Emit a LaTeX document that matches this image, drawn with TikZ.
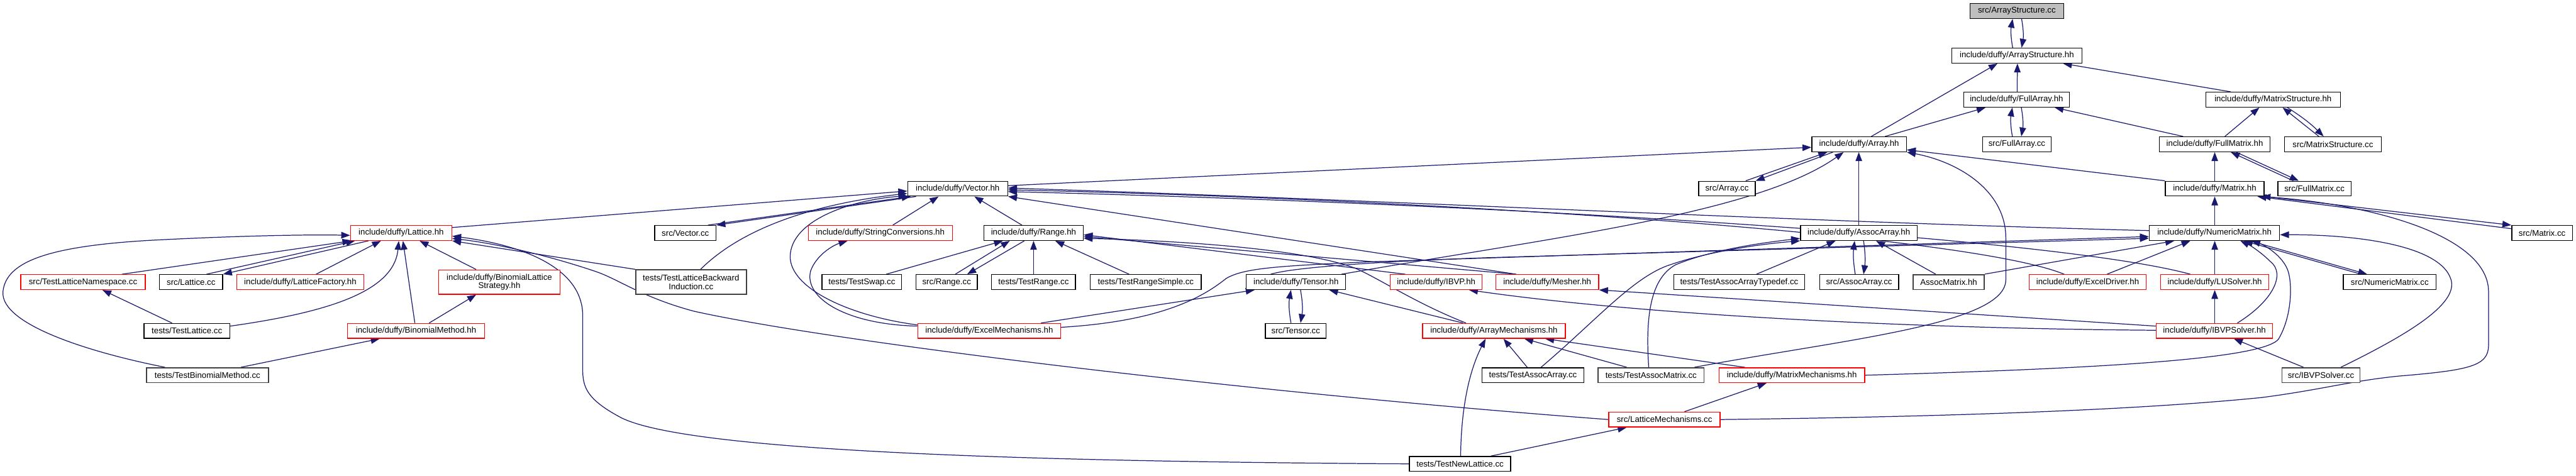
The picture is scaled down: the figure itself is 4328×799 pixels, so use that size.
\documentclass[tikz,border=0pt]{standalone}
\usepackage{fontspec}
\setmainfont{Liberation Sans}
\usetikzlibrary{arrows.meta}
\definecolor{edgecol}{HTML}{191970}
\definecolor{rootfill}{HTML}{BFBFBF}
\definecolor{greyborder}{HTML}{404040}
\pgfdeclarelayer{bg}
\pgfsetlayers{bg,main}
\begin{document}
\begin{tikzpicture}[x=1pt,y=-1pt,
  nd/.style={draw=black,line width=1.4pt,fill=white,rectangle,inner sep=0pt,minimum height=25pt,font=\fontsize{14}{14.5}\selectfont,align=center},
  rd/.style={nd,draw=red},
  gd/.style={nd,draw=greyborder,line width=1.8pt},
  ed/.style={draw=edgecol,line width=1.3pt,-{Triangle[length=15pt,width=11pt]}}]
\useasboundingbox (0,0) rectangle (4328,799);
% row 0-4
\node[nd,fill=rootfill,minimum width=157pt] (asc) at (3388.5,18.5) {src/ArrayStructure.cc};
\node[nd,minimum width=219pt] (ash) at (3388.5,93.5) {include/duffy/ArrayStructure.hh};
\node[nd,minimum width=178pt] (fah) at (3388,167.5) {include/duffy/FullArray.hh};
\node[nd,minimum width=226pt] (msh) at (3819,167.5) {include/duffy/MatrixStructure.hh};
\node[nd,minimum width=115pt] (fac) at (3388.5,242.5) {src/FullArray.cc};
\node[nd,minimum width=159pt] (arh) at (3123.5,242.5) {include/duffy/Array.hh};
\node[nd,minimum width=186pt] (fmh) at (3721,242.5) {include/duffy/FullMatrix.hh};
\node[nd,minimum width=163pt] (msc) at (3919.5,242.5) {src/MatrixStructure.cc};
\node[nd,minimum width=95pt] (arc) at (2901.5,317) {src/Array.cc};
\node[nd,minimum width=168pt] (vch) at (1609,317) {include/duffy/Vector.hh};
\node[nd,minimum width=166pt] (mah) at (3721,317) {include/duffy/Matrix.hh};
\node[nd,minimum width=123pt] (fmc) at (3888.5,317) {src/FullMatrix.cc};
% row 5
\node[rd,minimum width=170pt] (lah) at (674,391.5) {include/duffy/Lattice.hh};
\node[nd,minimum width=103pt] (vcc) at (1151.5,391.5) {src/Vector.cc};
\node[rd,minimum width=242pt] (sch) at (1479,391.5) {include/duffy/StringConversions.hh};
\node[nd,minimum width=167pt] (rah) at (1736.5,391.5) {include/duffy/Range.hh};
\node[nd,minimum width=196pt] (aah) at (3123,391.5) {include/duffy/AssocArray.hh};
\node[nd,minimum width=219pt] (nmh) at (3720.5,391.5) {include/duffy/NumericMatrix.hh};
\node[nd,minimum width=102pt] (mac) at (4271,391.5) {src/Matrix.cc};
% row 6
\node[rd,minimum width=209pt] (tln) at (139.5,474) {src/TestLatticeNamespace.cc};
\node[nd,minimum width=106pt] (lac) at (321,474) {src/Lattice.cc};
\node[rd,minimum width=213pt] (lfh) at (504.5,474) {include/duffy/LatticeFactory.hh};
\node[rd,minimum width=204pt,minimum height=41pt] (bls) at (839,474) {include/duffy/BinomialLattice\\Strategy.hh};
\node[gd,minimum width=186pt,minimum height=41pt] (tlb) at (1161,474) {tests/TestLatticeBackward\\Induction.cc};
\node[nd,minimum width=134pt] (tsw) at (1448,474) {tests/TestSwap.cc};
\node[nd,minimum width=103pt] (rac) at (1590.5,474) {src/Range.cc};
\node[nd,minimum width=141pt] (tra) at (1736.5,474) {tests/TestRange.cc};
\node[nd,minimum width=186pt] (trs) at (1925,474) {tests/TestRangeSimple.cc};
\node[nd,minimum width=167pt] (teh) at (2177.5,474) {include/duffy/Tensor.hh};
\node[rd,minimum width=154pt] (ibh) at (2413,474) {include/duffy/IBVP.hh};
\node[rd,minimum width=173pt] (meh) at (2599.5,474) {include/duffy/Mesher.hh};
\node[nd,minimum width=220pt] (tat) at (2922,474) {tests/TestAssocArrayTypedef.cc};
\node[nd,minimum width=133pt] (aac) at (3123.5,474) {src/AssocArray.cc};
\node[gd,minimum width=120pt] (amh) at (3274,474) {AssocMatrix.hh};
\node[rd,minimum width=197pt] (edh) at (3507.5,474) {include/duffy/ExcelDriver.hh};
\node[rd,minimum width=182pt] (luh) at (3721,474) {include/duffy/LUSolver.hh};
\node[nd,minimum width=156pt] (nmc) at (4015,474) {src/NumericMatrix.cc};
% row 7
\node[nd,minimum width=144pt] (tlc) at (314,556) {tests/TestLattice.cc};
\node[rd,minimum width=230pt] (bmh) at (699,556) {include/duffy/BinomialMethod.hh};
\node[rd,minimum width=240pt] (emh) at (1662,556) {include/duffy/ExcelMechanisms.hh};
\node[nd,minimum width=102pt] (tec) at (2177,556) {src/Tensor.cc};
\node[rd,minimum width=240pt] (amch) at (2510,556) {include/duffy/ArrayMechanisms.hh};
\node[rd,minimum width=195pt] (ish) at (3720.5,556) {include/duffy/IBVPSolver.hh};
% row 8-10
\node[gd,minimum width=205pt] (tbm) at (348.5,630.5) {tests/TestBinomialMethod.cc};
\node[nd,minimum width=171pt] (taa) at (2575.5,630.5) {tests/TestAssocArray.cc};
\node[gd,minimum width=178pt] (tam) at (2774,630.5) {tests/TestAssocMatrix.cc};
\node[rd,minimum width=245pt] (mmh) at (3010.5,630.5) {include/duffy/MatrixMechanisms.hh};
\node[gd,minimum width=131pt] (isc) at (3899.5,630.5) {src/IBVPSolver.cc};
\node[rd,minimum width=187pt] (lmc) at (2796.5,705) {src/LatticeMechanisms.cc};
\node[nd,minimum width=170pt] (tnl) at (2453,779.5) {tests/TestNewLattice.cc};

\begin{pgfonlayer}{bg}
% top part
\draw[ed] ([xshift=-7pt]ash.north) to[bend left=10] ([xshift=-7pt]asc.south);
\draw[ed] ([xshift=8pt]asc.south) to[bend left=10] ([xshift=8pt]ash.north);
\draw[ed] ([xshift=1pt]fah.north) -- ([xshift=1pt]ash.south);
\draw[ed] ([xshift=20.5pt]arh.north) -- ([xshift=-32.5pt]ash.south);
\draw[ed] ([xshift=-71pt]msh.north) -- ([xshift=77.5pt]ash.south);
\draw[ed] ([xshift=43.5pt]arh.north) -- ([xshift=-52pt]fah.south);
\draw[ed] ([xshift=-7.5pt]fac.north) to[bend left=10] ([xshift=-7pt]fah.south);
\draw[ed] ([xshift=8pt]fah.south) to[bend left=10] ([xshift=7.5pt]fac.north);
\draw[ed] ([xshift=-53pt]fmh.north) -- ([xshift=64pt]fah.south);
\draw[ed] ([xshift=17pt]fmh.north) -- ([xshift=-23pt]msh.south);
\draw[ed] ([xshift=-23.5pt]msc.north) -- ([xshift=16pt]msh.south);
\draw[ed] ([xshift=24pt]msh.south) to[bend left=6] ([xshift=-15.5pt]msc.north);
\draw[ed] (mah.north) -- (fmh.south);
\draw[ed] ([xshift=-35.5pt]fmc.north) -- ([xshift=27pt]fmh.south);
\draw[ed] ([xshift=36pt]fmh.south) -- ([xshift=-26.5pt]fmc.north);
\draw[ed] (mah.north west) -- ([yshift=4pt]arh.south east);
\draw[ed] ([yshift=5pt]vch.east) -- ([yshift=-5pt]arh.west);
\draw[ed] ([xshift=31.5pt]arc.north) -- ([xshift=-53.5pt]arh.south);
\draw[ed] ([xshift=-44pt]arh.south) -- (arc.north east);
\draw[ed] ([xshift=76.5pt]teh.north) .. controls (2600,400) and (2950,360) .. ([xshift=-26pt]arh.south);
\draw[ed] (aah.north) -- ([xshift=-0.5pt]arh.south);
\draw[ed] ([xshift=73pt]tam.north) .. controls (3100,570) and (3370,545) .. (3370,470) -- (3370,400) .. controls (3370,320) and (3290,272) .. (arh.south east);
\draw[ed] ([xshift=0.5pt]nmh.north) -- (mah.south);
\draw[ed] ([yshift=-6pt]mac.north west) -- ([xshift=-12pt]mah.south east);
\draw[ed] (mah.south east) -- (mac.north west);
\draw[ed] (lmc.east) .. controls (3300,700) and (3600,688) .. (3800,668) .. controls (3900,655) and (3950,640) .. (4030,632) .. controls (4150,622) and (4181,615) .. (4181,580) -- (4181,490) .. controls (4181,400) and (4000,345) .. ([xshift=-5pt]mah.south east);
% Vector.hh
\draw[ed] ([yshift=-4pt]lah.north east) -- ([yshift=-4pt]vch.west);
\draw[ed] ([xshift=38pt]vcc.north) -- ([xshift=-79pt]vch.south);
\draw[ed] ([xshift=-70pt]vch.south) -- (vcc.north east);
\draw[ed] ([xshift=16pt]tlb.north) .. controls (1240,390) and (1350,345) .. ([yshift=-8pt]vch.west);
\draw[ed] ([yshift=10pt]emh.west) .. controls (1420,530) and (1320,480) .. (1328,425) .. controls (1336,365) and (1440,335) .. ([yshift=-12pt]vch.west);
\draw[ed] ([yshift=8pt]emh.west) .. controls (1420,545) and (1350,500) .. (1362,455) .. controls (1372,428) and (1400,412) .. ([xshift=-55pt]sch.south);
\draw[ed] ([xshift=21pt]sch.north) -- ([xshift=-32pt]vch.south);
\draw[ed] ([xshift=-19.5pt]rah.north) -- ([xshift=28pt]vch.south);
\draw[ed] ([xshift=-52.5pt]meh.north) -- (vch.south east);
\draw[ed] ([yshift=4pt]nmh.west) .. controls (3000,372) and (2300,335) .. ([yshift=1pt]vch.east);
\draw[ed] ([xshift=-39.5pt]edh.north) .. controls (3300,392) and (2400,335) .. ([yshift=-2pt]vch.east);
\draw[ed] ([xshift=-41pt]luh.north) .. controls (3450,398) and (2500,342) .. ([yshift=-5pt]vch.east);
% Lattice.hh
\draw[ed] ([xshift=-71.5pt]tbm.north) .. controls (150,592) and (0,545) .. (5,490) .. controls (10,440) and (80,414) .. (250,404) .. controls (400,396) and (520,394) .. ([yshift=-4pt]lah.west);
\draw[ed] ([xshift=65.5pt]tln.north) -- ([xshift=2pt]lah.south west);
\draw[ed] ([xshift=26pt]lac.north) -- ([xshift=8pt]lah.south west);
\draw[ed] ([xshift=-55pt]lah.south) -- (lac.north east);
\draw[ed] ([xshift=26.5pt]lfh.north) -- ([xshift=-34pt]lah.south);
\draw[ed] ([yshift=8pt]tlc.east) .. controls (550,525) and (662,490) .. ([xshift=-4pt]lah.south);
\draw[ed] ([xshift=-2pt]bmh.north) -- ([xshift=3pt]lah.south);
\draw[ed] ([xshift=-39pt]bls.north) -- ([xshift=31pt]lah.south);
\draw[ed] (tlb.north west) -- (lah.south east);
\draw[ed] (lmc.west) .. controls (2100,660) and (1400,575) .. (1166,523) .. controls (1080,500) and (1040,470) .. (1003,457) .. controls (930,432) and (840,410) .. ([yshift=4pt]lah.south east);
\draw[ed] (tnl.west) .. controls (1800,776) and (1150,762) .. (1040,700) .. controls (985,670) and (979,650) .. (979,620) -- (979,530) .. controls (979,460) and (900,415) .. ([yshift=8pt]lah.south east);
\draw[ed] ([xshift=-25pt]tlc.north) -- ([xshift=32.5pt]tln.south);
\draw[ed] ([xshift=56.5pt]tbm.north) -- ([xshift=-61pt]bmh.south);
\draw[ed] ([xshift=22pt]bmh.north) -- ([xshift=-39pt]bls.south);
% Range.hh
\draw[ed] ([xshift=41pt]tsw.north) -- ([xshift=-51.5pt]rah.south);
\draw[ed] ([xshift=14.5pt]rac.north) -- ([xshift=-40pt]rah.south);
\draw[ed] ([xshift=-15.5pt]rah.south) -- ([xshift=34.5pt]rac.north);
\draw[ed] (tra.north) -- (rah.south);
\draw[ed] ([xshift=-28pt]trs.north) -- ([xshift=36.5pt]rah.south);
\draw[ed] ([xshift=-52pt]ibh.north) -- ([yshift=-3pt]rah.east);
\draw[ed] ([xshift=-52.5pt]meh.north) -- ([yshift=-6pt]rah.east);
\draw[ed] ([xshift=-47pt]amch.north) .. controls (2380,510) and (2320,470) .. (2280,452) .. controls (2200,420) and (2000,405) .. ([yshift=-9pt]rah.east);
% Tensor.hh
\draw[ed] ([xshift=-8pt]tec.north) to[bend left=10] ([xshift=-8.5pt]teh.south);
\draw[ed] ([xshift=7.5pt]teh.south) to[bend left=10] ([xshift=8pt]tec.north);
\draw[ed] ([xshift=-52pt]amch.north) -- ([xshift=55.5pt]teh.south);
\draw[ed] ([xshift=87pt]emh.north) -- ([xshift=-69.5pt]teh.south);
\draw[ed] ([yshift=6pt]emh.east) .. controls (1950,540) and (2020,500) .. (2060,468) .. controls (2090,450) and (2150,447) .. (2300,440) -- ([yshift=-6pt]nmh.west);
\draw[ed] ([xshift=-42.5pt]teh.north) .. controls (2170,450) and (2300,440) .. (2500,433) -- ([yshift=-9pt]nmh.west);
% ArrayMechanisms etc.
\draw[ed] ([xshift=1pt]tnl.north) .. controls (2455,680) and (2470,620) .. ([xshift=-14pt]amch.south);
\draw[ed] ([xshift=-9.5pt]taa.north) -- ([xshift=16pt]amch.south);
\draw[ed] ([xshift=-41pt]tam.north) -- ([xshift=51pt]amch.south);
\draw[ed] ([xshift=-78.5pt]mmh.north) -- ([xshift=86pt]amch.south);
\draw[ed] ([xshift=52pt]tnl.north) -- ([xshift=-63.5pt]lmc.south);
\draw[ed] ([xshift=33.5pt]lmc.north) -- ([xshift=-42.5pt]mmh.south);
\draw[ed] ([xshift=13.5pt]taa.north) .. controls (2680,540) and (2740,470) .. (2800,447) .. controls (2870,422) and (2960,410) .. (aah.south west);
\draw[ed] ([xshift=-4pt]tam.north) .. controls (2765,540) and (2770,470) .. (2815,445) .. controls (2875,420) and (2960,408) .. ([yshift=4pt]aah.south west);
\draw[ed] ([xshift=29pt]tat.north) -- ([xshift=-39pt]aah.south);
\draw[ed] ([xshift=-6.5pt]aac.north) to[bend left=8] ([xshift=-7pt]aah.south);
\draw[ed] ([xshift=8pt]aah.south) to[bend left=8] ([xshift=7.5pt]aac.north);
\draw[ed] ([xshift=-22pt]amh.north) -- ([xshift=29pt]aah.south);
\draw[ed] (amh.north east) -- ([xshift=-67.5pt]nmh.south);
\draw[ed] ([xshift=32.5pt]edh.north) -- ([xshift=-40.5pt]nmh.south);
\draw[ed] (luh.north) -- ([xshift=0.5pt]nmh.south);
\draw[ed] ([xshift=0.5pt]ish.north) -- (luh.south);
\draw[ed] ([xshift=-48pt]nmc.north) -- ([xshift=49.5pt]nmh.south);
\draw[ed] ([xshift=59.5pt]nmh.south) -- ([xshift=-38pt]nmc.north);
\draw[ed] ([xshift=38.5pt]ish.north) .. controls (3820,505) and (3840,460) .. (3815,440) .. controls (3800,425) and (3782,413) .. ([xshift=43.5pt]nmh.south);
\draw[ed] (mmh.east) .. controls (3500,620) and (3800,605) .. (3828,570) .. controls (3852,530) and (3852,470) .. (3842,450) .. controls (3830,425) and (3800,410) .. ([xshift=62pt]nmh.south);
\draw[ed] ([xshift=-29.5pt]isc.north) -- ([xshift=32.5pt]ish.south);
\draw[ed] ([xshift=33.5pt]isc.north) .. controls (4050,560) and (4130,510) .. (4118,470) .. controls (4100,410) and (3950,394) .. ([yshift=-3pt]nmh.east);
\draw[ed] ([yshift=8pt]ish.west) -- (meh.south east);
\draw[ed] ([yshift=1pt]ish.west) .. controls (3200,552) and (2750,528) .. ([xshift=55pt]ibh.south);
\end{pgfonlayer}
\end{tikzpicture}
\end{document}
